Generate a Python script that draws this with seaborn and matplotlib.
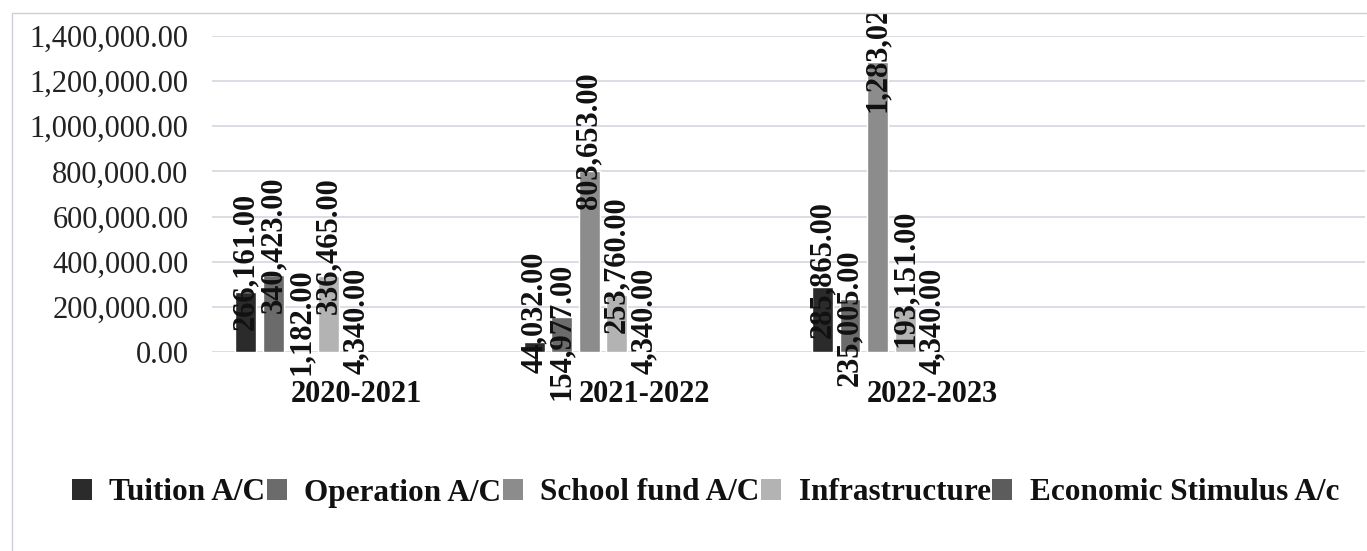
import numpy as np
import pandas as pd
import matplotlib
matplotlib.use("Agg")
import matplotlib.pyplot as plt
import seaborn as sns
from matplotlib.patches import Patch
from matplotlib.lines import Line2D
from matplotlib.transforms import Bbox, TransformedBbox

# ---------------------------------------------------------
# DATA
# ---------------------------------------------------------
years = ["2020-2021", "2021-2022", "2022-2023"]
series = ["Tuition A/C", "Operation A/C", "School fund A/C", "Infrastructure", "Economic Stimulus A/c"]
tuition = [266161.00, 44032.00, 285865.00]
operation = [340423.00, 154977.00, 235005.00]
school_fund = [1182.00, 803653.00, 1283020.00]
infrastructure = [336465.00, 253760.00, 193151.00]
stimulus = [4340.00, 4340.00, 4340.00]
y_ticks = [0, 200000, 400000, 600000, 800000, 1000000, 1200000, 1400000]

# ---------------------------------------------------------
# STYLE
# ---------------------------------------------------------
colors = ["#2b2b2b", "#6b6b6b", "#8c8c8c", "#b3b3b3", "#5c5c5c"]
# empty slots the original chart keeps in every group (bars sit left of the label)
spare = ["_s1", "_s2", "_s3", "_s4"]
# labels that Excel moved to dodge neighbours (pixels, + = up)
label_shift = {("Operation A/C", "2021-2022"): -44,
               ("Operation A/C", "2022-2023"): -49,
               ("Tuition A/C", "2022-2023"): -12}

sns.set_theme(style="white")
plt.rcParams["font.family"] = ["Liberation Serif", "DejaVu Serif"]
FS = 22

values = [tuition, operation, school_fund, infrastructure, stimulus]
df = pd.DataFrame({
    "year": np.tile(years, len(series)),
    "account": np.repeat(series, len(years)),
    "amount": np.concatenate(values),
})

fig = plt.figure(figsize=(13.67, 5.51), dpi=100)
ax = fig.add_axes([212 / 1367, 1 - 352 / 551, (1365 - 212) / 1367, (352 - 36) / 551])

sns.barplot(data=df, x="year", y="amount", hue="account", order=years,
            hue_order=series + spare, palette=colors + ["#ffffff"] * len(spare),
            width=0.86, gap=0.24, saturation=1, legend=False, ax=ax,
            errorbar=None)

ax.set_xlim(-0.5, 3.5)
ax.set_ylim(0, 1400000)
ax.set_yticks(y_ticks)
ax.set_yticklabels([f"{v:,.2f}" for v in y_ticks], fontsize=FS, color="#222222")
ax.tick_params(axis="y", length=0, pad=17)
ax.tick_params(axis="x", length=0, pad=20)
for lab in ax.get_xticklabels():
    lab.set_fontsize(FS)
    lab.set_fontweight("bold")
    lab.set_color("#111111")
ax.set_xlabel("")
ax.set_ylabel("")
ax.yaxis.grid(True, color="#d2d2dc", linewidth=1.1)
ax.set_axisbelow(True)
for s in ax.spines.values():
    s.set_visible(False)

# data labels, rotated, centred a bit above each bar top
clip = TransformedBbox(Bbox([[0, 0], [1, 1 - 13 / 551]]), fig.transFigure)
for name, cont in zip(series, ax.containers):
    for yr, bar in zip(years, cont):
        h = bar.get_height()
        off = 30 + label_shift.get((name, yr), 0)
        t = ax.annotate(f"{h:,.2f}", (bar.get_x() + bar.get_width() / 2, h),
                        xytext=(0, off), textcoords="offset pixels",
                        rotation=90, ha="center", va="center",
                        fontsize=FS, fontweight="bold", color="#111111",
                        annotation_clip=False)
        t.set_clip_box(clip)
        t.set_clip_on(True)

# outer chart frame (only left and top edges show in the scan)
fig.add_artist(Line2D([12 / 1367, 12 / 1367], [0, 1 - 13 / 551],
                      transform=fig.transFigure, color="#cfcfd8", lw=1))
fig.add_artist(Line2D([12 / 1367, 1], [1 - 13 / 551, 1 - 13 / 551],
                      transform=fig.transFigure, color="#cfcfd8", lw=1))

handles = [Patch(facecolor=c, edgecolor="none") for c in colors]
leg = fig.legend(handles, series, loc="center", bbox_to_anchor=(0.516, 1 - 493 / 551),
                 ncol=5, frameon=False, handlelength=0.65, handleheight=0.65,
                 handletextpad=0.55, columnspacing=0.05,
                 prop={"size": 22.5, "weight": "bold"})
for txt in leg.get_texts():
    txt.set_color("#111111")

fig.savefig("out.png", dpi=100)
